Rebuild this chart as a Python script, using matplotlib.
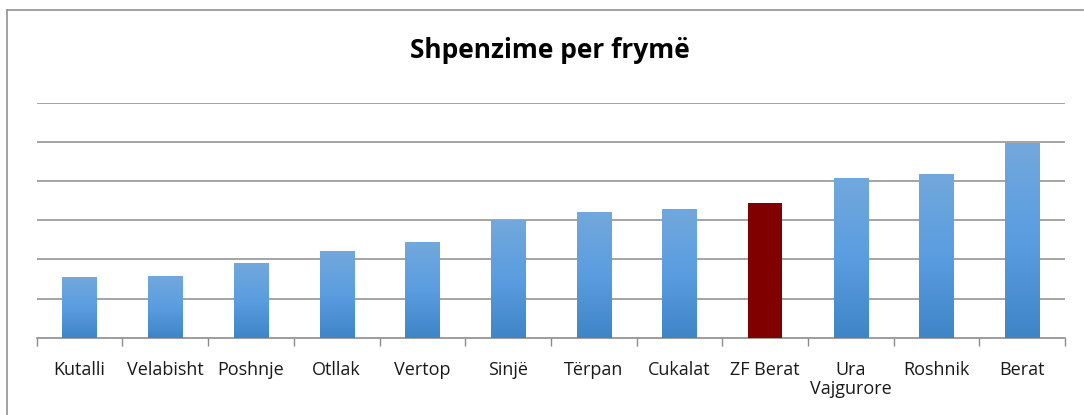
import numpy as np
import matplotlib
matplotlib.use("Agg")
import matplotlib.pyplot as plt
from matplotlib.colors import LinearSegmentedColormap
from matplotlib.lines import Line2D

plt.rcParams['font.family'] = ['Open Sans', 'DejaVu Sans']

# values (gridline step = 1, no y labels shown)
places = ['Kutalli', 'Velabisht', 'Poshnje', 'Otllak', 'Vertop', 'Sinjë',
          'Tërpan', 'Cukalat', 'ZF Berat', 'Ura\nVajgurore', 'Roshnik', 'Berat']
spending = [1.54, 1.58, 1.89, 2.21, 2.44, 3.00, 3.20, 3.28, 3.44, 4.07, 4.18, 4.96]
highlight = 'ZF Berat'

fig = plt.figure(figsize=(10.84, 4.15), dpi=100)
ax = fig.add_axes([0.0339, 0.1863, 0.9486, 0.5662])

x = np.arange(len(places))
bars = ax.bar(x, spending, width=0.4, color='none', edgecolor='none', zorder=3)

blue_grad = LinearSegmentedColormap.from_list('bg', ['#3f85c6', '#5a9de0', '#72a8dc'])
grad = np.linspace(0, 1, 256).reshape(-1, 1)
for b, name in zip(bars, places):
    x0, y0 = b.get_x(), b.get_y()
    w, h = b.get_width(), b.get_height()
    if name == highlight:
        ax.add_patch(plt.Rectangle((x0, y0), w, h, facecolor='#800000', edgecolor='none', zorder=3))
    else:
        ax.imshow(grad, cmap=blue_grad, aspect='auto', origin='lower',
                  extent=(x0, x0 + w, y0, y0 + h), zorder=3)

ax.set_xlim(-0.5, len(places) - 0.5)
ax.set_ylim(0, 6)
ax.set_yticks(np.arange(1, 7))
ax.set_yticklabels([])
ax.tick_params(axis='y', length=0)
ax.grid(axis='y', color='#8c8c8c', linewidth=1.1, zorder=0)

ax.set_xticks(x)
ax.set_xticklabels(places, fontsize=13, color='#1a1a1a', linespacing=1.05)
ax.tick_params(axis='x', which='major', length=0, pad=17)
ax.set_xticks(np.arange(-0.5, len(places)), minor=True)
ax.tick_params(axis='x', which='minor', length=6, width=1, color='#8c8c8c')

for s in ['top', 'right', 'left']:
    ax.spines[s].set_visible(False)
ax.spines['bottom'].set_color('#8c8c8c')
ax.spines['bottom'].set_linewidth(1.2)

fig.text(0.507, 0.878, 'Shpenzime per frymë', ha='center', va='center',
         fontsize=19, fontweight='bold', color='black')

# outer chart frame (top and left edges visible)
fig.add_artist(Line2D([7 / 1084, 7 / 1084], [0, 1 - 10.5 / 415], transform=fig.transFigure,
                      color='#9a9a9a', linewidth=1.3))
fig.add_artist(Line2D([7 / 1084, 1083 / 1084], [1 - 10.5 / 415, 1 - 10.5 / 415],
                      transform=fig.transFigure, color='#9a9a9a', linewidth=1.3))

fig.savefig('out.png', dpi=100)
